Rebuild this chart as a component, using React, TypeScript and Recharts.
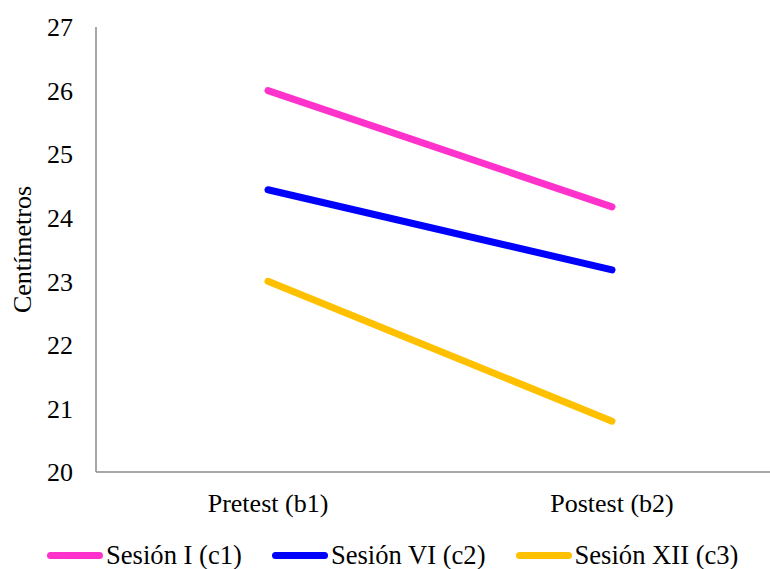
import { LineChart, Line, XAxis, YAxis } from "recharts";

const phases = ["Pretest (b1)", "Postest (b2)"];
const sesionI = [26.0, 24.17];
const sesionVI = [24.44, 23.18];
const sesionXII = [23.0, 20.8];
const yTicks = [20, 21, 22, 23, 24, 25, 26, 27];

const series = [
	{ key: "c1", name: "Sesión I (c1)", color: "#FF33CC", values: sesionI },
	{ key: "c2", name: "Sesión VI (c2)", color: "#0000FF", values: sesionVI },
	{ key: "c3", name: "Sesión XII (c3)", color: "#FFC000", values: sesionXII },
];

const data = phases.map((phase, i) => {
	const row: Record<string, string | number> = { phase };
	series.forEach((s) => {
		row[s.key] = s.values[i];
	});
	return row;
});

const font = "Liberation Serif";

const AxisTitle = ({ viewBox }: any) => {
	const cy = viewBox.y + viewBox.height / 2;
	return (
		<text
			x={22}
			y={cy}
			transform={`rotate(-90, 22, ${cy})`}
			textAnchor="middle"
			dominantBaseline="central"
			style={{ fontFamily: font, fontSize: 26 }}
			fill="#000"
		>
			Centímetros
		</text>
	);
};

const App = () => {
	return (
		<div
			style={{
				position: "absolute",
				left: 0,
				top: 0,
				width: 770,
				height: 569,
				overflow: "hidden",
				background: "#fff",
				fontFamily: font,
			}}
		>
			<LineChart
				width={790}
				height={569}
				data={data}
				margin={{ top: 27, right: 6, bottom: 47, left: 0 }}
				style={{ fontFamily: font }}
			>
				<XAxis
					dataKey="phase"
					padding={{ left: 172, right: 172 }}
					axisLine={{ stroke: "#8a8a8a", strokeWidth: 1.5 }}
					tickLine={false}
					tickSize={0}
					tickMargin={22}
					height={50}
					tick={{ fill: "#000", fontSize: 26, style: { fontFamily: font } }}
				/>
				<YAxis
					domain={[20, 27]}
					ticks={yTicks}
					width={96}
					axisLine={{ stroke: "#8a8a8a", strokeWidth: 1.5 }}
					tickLine={false}
					tickSize={0}
					tickMargin={23}
					tick={{ fill: "#000", fontSize: 26, style: { fontFamily: font } }}
					label={<AxisTitle />}
				/>
				{series.map((s) => (
					<Line
						key={s.key}
						type="linear"
						dataKey={s.key}
						name={s.name}
						stroke={s.color}
						strokeWidth={7}
						strokeLinecap="round"
						dot={false}
						activeDot={false}
						isAnimationActive={false}
					/>
				))}
			</LineChart>
			<div
				style={{
					position: "absolute",
					top: 542,
					left: 47,
					height: 26,
					display: "flex",
					alignItems: "center",
					fontFamily: font,
					fontSize: 26.6,
					lineHeight: "26px",
					color: "#000",
					whiteSpace: "nowrap",
				}}
			>
				{series.map((s, i) => (
					<div
						key={s.key}
						style={{
							display: "flex",
							alignItems: "center",
							marginRight: i < series.length - 1 ? 30 : 0,
						}}
					>
						<span
							style={{
								display: "inline-block",
								width: 56,
								height: 7,
								borderRadius: 4,
								background: s.color,
								marginRight: 3,
							}}
						/>
						<span>{s.name}</span>
					</div>
				))}
			</div>
		</div>
	);
};

export default App;
